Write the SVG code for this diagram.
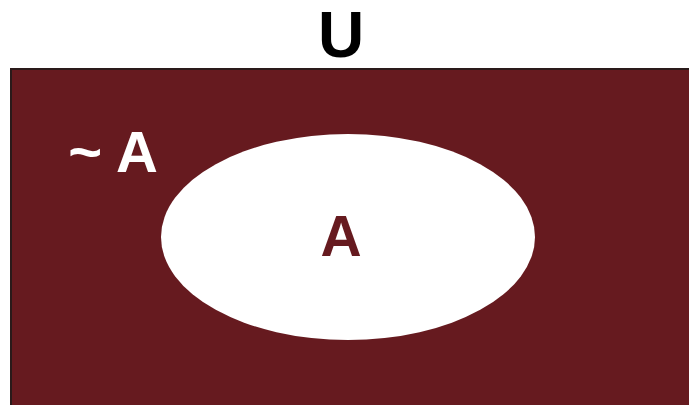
<svg xmlns="http://www.w3.org/2000/svg" width="689" height="405" viewBox="0 0 689 405">
<style>
.lbl{font-family:"Liberation Sans",Arial,sans-serif;font-weight:bold;}
</style>
<rect width="689" height="405" fill="#ffffff"/>
<g id="universe">
<rect x="11" y="69" width="690" height="345" fill="#661a1f" stroke="#2a1a1a" stroke-width="2"/>
<text class="lbl" x="341" y="57" font-size="64" text-anchor="middle" fill="#000">U</text>
</g>
<g id="complement">
<text class="lbl" x="113" y="172" font-size="58" text-anchor="middle" fill="#ffffff">~ A</text>
</g>
<g id="setA">
<ellipse cx="348" cy="237" rx="187" ry="103" fill="#ffffff"/>
<text class="lbl" x="341" y="256" font-size="57" text-anchor="middle" fill="#661a1f">A</text>
</g>
</svg>
